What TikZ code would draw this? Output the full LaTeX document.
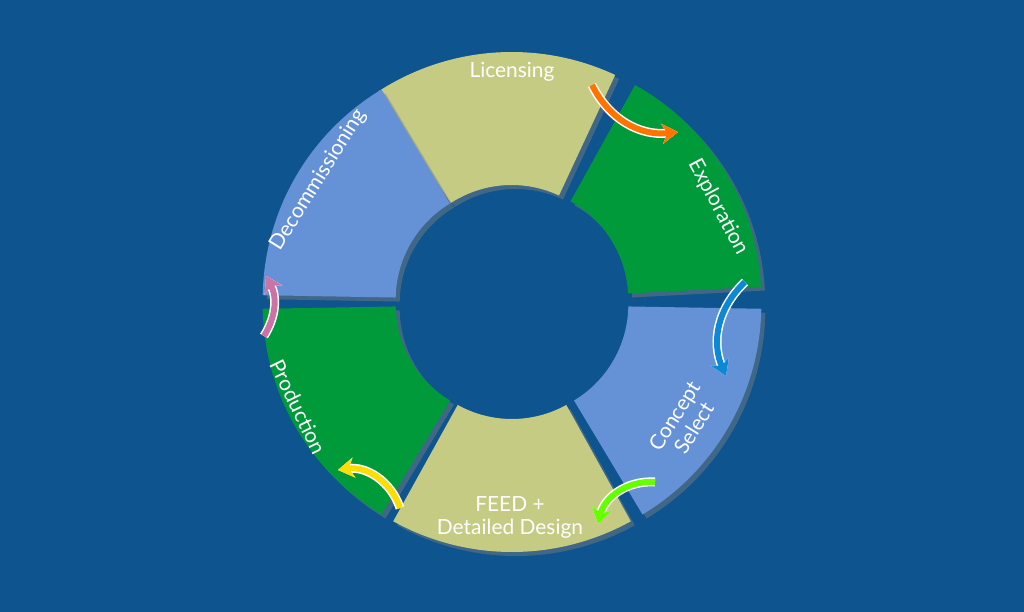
\documentclass[tikz,border=0pt]{standalone}
\usepackage{fontspec}
\setmainfont{Lato}
\usetikzlibrary{shadows,arrows.meta}
\definecolor{bg}{HTML}{0E548E}
\definecolor{olive}{HTML}{C5CB83}
\definecolor{grn}{HTML}{009A3B}
\definecolor{blu}{HTML}{6592D7}
\begin{document}
\begin{tikzpicture}[x=1bp,y=1bp,
  seg/.style={drop shadow={opacity=0.45,shadow xshift=4bp,shadow yshift=-4bp}},
  lab/.style={text=white,font=\fontsize{21}{23}\selectfont,align=center},
  arr/.style={line width=6bp,-{Stealth[length=16bp,width=20bp]}}]
\fill[bg] (0,0) rectangle (1024,612);
\useasboundingbox (0,0) rectangle (1024,612);
\foreach \a/\c in {94/olive,32/grn,-30/blu,-90/olive,-150/grn,150/blu}{
  \pgfmathsetmacro\aa{\a-29}\pgfmathsetmacro\ab{\a+29}
  \begin{scope}[shift={(512,310)},shift={(\a:5)}]
  \fill[\c,seg] (\aa:245) arc[start angle=\aa,end angle=\ab,radius=245] -- (\ab:112) arc[start angle=\ab,end angle=\aa,radius=112] -- cycle;
  \end{scope}}
\node[lab] (lic) at (512,540) {Licensing};
\node[lab,rotate=-62] (exp) at (718,405) {Exploration};
\node[lab,rotate=58] (con) at (684,190) {Concept\\Select};
\node[lab] (feed) at (510,95) {FEED +\\Detailed Design};
\node[lab,rotate=-64] (pro) at (298,205) {Production};
\node[lab,rotate=58] (dec) at (318,432) {Decommissioning};
\coordinate (a1) at (592,527); \coordinate (b1) at (678,480);
\coordinate (a2) at (745,330); \coordinate (b2) at (726,236);
\coordinate (a3) at (655,130); \coordinate (b3) at (598,88);
\coordinate (a4) at (400,104); \coordinate (b4) at (338,142);
\coordinate (a5) at (264,276); \coordinate (b5) at (266,336);
\foreach \s/\e/\c/\b in {a1/b1/orange!90!red/-35,a2/b2/cyan!70!blue/-35,a3/b3/green!60!yellow/-40,a4/b4/yellow!80!orange/-40,a5/b5/violet!40!pink/-30}{
  \draw[arr,white,line width=9bp] (\s) to[bend left=\b] (\e);
  \draw[arr,\c] (\s) to[bend left=\b] (\e);}
\end{tikzpicture}
\end{document}
